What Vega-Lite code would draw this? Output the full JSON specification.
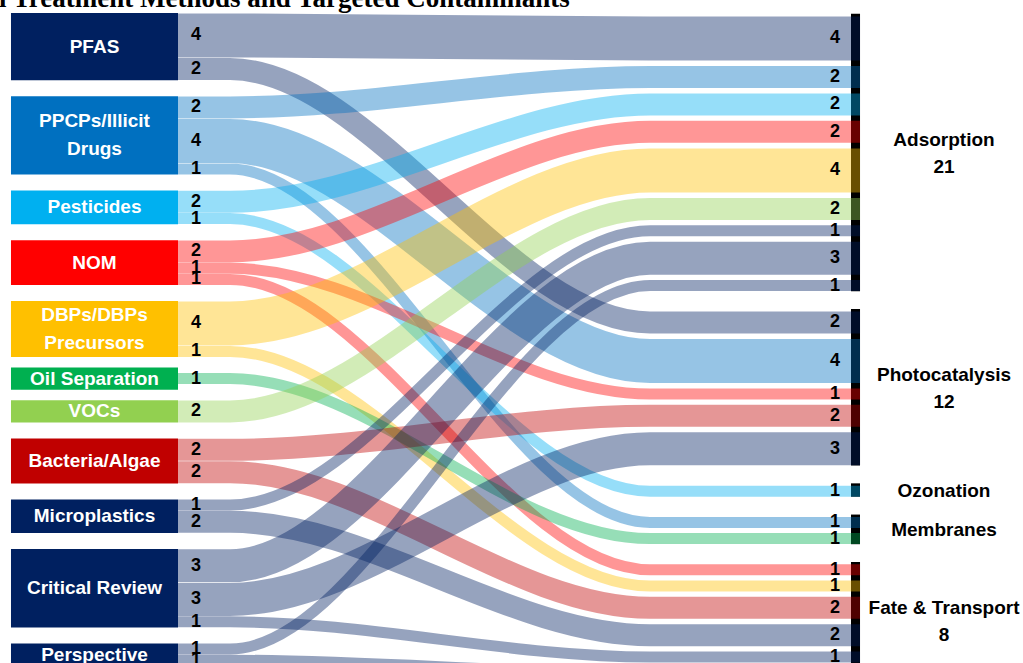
{
  "$schema": "https://vega.github.io/schema/vega-lite/v6.json",
  "width": 1023,
  "height": 663,
  "padding": 0,
  "autosize": {"type": "none"},
  "background": "white",
  "config": {"view": {"stroke": null}},
  "datasets": {
    "links": [
      {"source": "PFAS", "target": "Adsorption", "value": 4},
      {"source": "PFAS", "target": "Photocatalysis", "value": 2},
      {"source": "PPCPs/Illicit Drugs", "target": "Adsorption", "value": 2},
      {"source": "PPCPs/Illicit Drugs", "target": "Photocatalysis", "value": 4},
      {"source": "PPCPs/Illicit Drugs", "target": "Membranes", "value": 1},
      {"source": "Pesticides", "target": "Adsorption", "value": 2},
      {"source": "Pesticides", "target": "Ozonation", "value": 1},
      {"source": "NOM", "target": "Adsorption", "value": 2},
      {"source": "NOM", "target": "Photocatalysis", "value": 1},
      {"source": "NOM", "target": "Fate & Transport", "value": 1},
      {"source": "DBPs/DBPs Precursors", "target": "Adsorption", "value": 4},
      {"source": "DBPs/DBPs Precursors", "target": "Fate & Transport", "value": 1},
      {"source": "Oil Separation", "target": "Membranes", "value": 1},
      {"source": "VOCs", "target": "Adsorption", "value": 2},
      {"source": "Bacteria/Algae", "target": "Photocatalysis", "value": 2},
      {"source": "Bacteria/Algae", "target": "Fate & Transport", "value": 2},
      {"source": "Microplastics", "target": "Adsorption", "value": 1},
      {"source": "Microplastics", "target": "Fate & Transport", "value": 2},
      {"source": "Critical Review", "target": "Adsorption", "value": 3},
      {"source": "Critical Review", "target": "Photocatalysis", "value": 3},
      {"source": "Critical Review", "target": "Fate & Transport", "value": 1},
      {"source": "Perspective", "target": "Adsorption", "value": 1},
      {"source": "Perspective", "target": "Fate & Transport", "value": 1}
    ],
    "sources": [
      {"source": "PFAS", "so": 0, "label": "PFAS"},
      {"source": "PPCPs/Illicit Drugs", "so": 1, "label": "PPCPs/Illicit\nDrugs"},
      {"source": "Pesticides", "so": 2, "label": "Pesticides"},
      {"source": "NOM", "so": 3, "label": "NOM"},
      {"source": "DBPs/DBPs Precursors", "so": 4, "label": "DBPs/DBPs\nPrecursors"},
      {"source": "Oil Separation", "so": 5, "label": "Oil Separation"},
      {"source": "VOCs", "so": 6, "label": "VOCs"},
      {"source": "Bacteria/Algae", "so": 7, "label": "Bacteria/Algae"},
      {"source": "Microplastics", "so": 8, "label": "Microplastics"},
      {"source": "Critical Review", "so": 9, "label": "Critical Review"},
      {"source": "Perspective", "so": 10, "label": "Perspective"}
    ],
    "targets": [
      {"target": "Adsorption", "to": 0},
      {"target": "Photocatalysis", "to": 1},
      {"target": "Ozonation", "to": 2},
      {"target": "Membranes", "to": 3},
      {"target": "Fate & Transport", "to": 4}
    ],
    "titles": [
      {"title": "l Treatment Methods and Targeted Contaminants"}
    ]
  },
  "data": {"name": "links"},
  "transform": [
    {"lookup": "source", "from": {"data": {"name": "sources"}, "key": "source", "fields": ["so", "label"]}},
    {"lookup": "target", "from": {"data": {"name": "targets"}, "key": "target", "fields": ["to"]}},
    {"window": [{"op": "sum", "field": "value", "as": "lcum"}], "sort": [{"field": "so"}, {"field": "to"}], "frame": [null, 0]},
    {"window": [{"op": "sum", "field": "value", "as": "rcum"}, {"op": "row_number", "as": "rn"}], "sort": [{"field": "to"}, {"field": "so"}], "frame": [null, 0]},
    {"calculate": "1.1607 + datum.lcum - datum.value + datum.so * 1.4286", "as": "ltop"},
    {"calculate": "datum.ltop + datum.value / 2", "as": "yl"},
    {"calculate": "1.4286 + datum.rcum - datum.value + (datum.rn - 1 - datum.to) * 0.4464 + datum.to * 1.7857", "as": "rtop"},
    {"calculate": "datum.rtop + datum.value / 2", "as": "yr"},
    {"calculate": "datum.rtop + datum.value", "as": "rbot"},
    {"calculate": "datum.source + ' > ' + datum.target", "as": "link"}
  ],
  "layer": [
    {
      "transform": [
        {"aggregate": [{"op": "min", "field": "rtop", "as": "t0"}, {"op": "max", "field": "rbot", "as": "t1"}], "groupby": ["target"]},
        {"calculate": "datum.t0 - 0.2", "as": "b0"}
      ],
      "mark": {"type": "rect", "color": "black"},
      "encoding": {
        "x": {"datum": 0.9985, "type": "quantitative", "scale": {"domain": [-0.2641, 1.2537], "nice": false, "zero": false}, "axis": null},
        "x2": {"datum": 1.0119},
        "y": {"field": "b0", "type": "quantitative", "scale": {"domain": [0, 59.1964], "reverse": true, "nice": false, "zero": false}, "axis": null},
        "y2": {"field": "t1"}
      }
    },
    {
      "transform": [
        {"calculate": "[0, 1, 2, 3]", "as": "pt"},
        {"flatten": ["pt"]},
        {"calculate": "datum.pt == 0 ? 0 : datum.pt == 1 ? 0.0772 : datum.pt == 2 ? 0.7003 : 1.0119", "as": "px"},
        {"calculate": "datum.pt < 2 ? datum.yl : datum.yr", "as": "py"}
      ],
      "mark": {"type": "line", "interpolate": "monotone", "opacity": 0.41, "strokeCap": "butt"},
      "encoding": {
        "x": {"field": "px", "type": "quantitative", "scale": {"domain": [-0.2641, 1.2537], "nice": false, "zero": false}, "axis": null},
        "y": {"field": "py", "type": "quantitative", "scale": {"domain": [0, 59.1964], "reverse": true, "nice": false, "zero": false}, "axis": null},
        "detail": {"field": "link", "type": "nominal"},
        "order": {"field": "pt", "type": "quantitative"},
        "color": {"field": "source", "type": "nominal", "legend": null, "scale": {"domain": ["PFAS", "PPCPs/Illicit Drugs", "Pesticides", "NOM", "DBPs/DBPs Precursors", "Oil Separation", "VOCs", "Bacteria/Algae", "Microplastics", "Critical Review", "Perspective"], "range": ["#002060", "#0070C0", "#00B0F0", "#FF0000", "#FFC000", "#00B050", "#92D050", "#C00000", "#002060", "#002060", "#002060"]}},
        "size": {"field": "value", "type": "quantitative", "legend": null, "scale": {"type": "linear", "domain": [0, 1], "range": [0, 11], "zero": true}}
      }
    },
    {
      "transform": [
        {"aggregate": [{"op": "min", "field": "ltop", "as": "t0"}, {"op": "sum", "field": "value", "as": "total"}], "groupby": ["source", "label"]},
        {"calculate": "datum.t0 + datum.total / 2", "as": "c"},
        {"calculate": "datum.c - max(datum.total, 2) / 2", "as": "b0"},
        {"calculate": "datum.c + max(datum.total, 2) / 2", "as": "b1"},
        {"calculate": "datum.c - (length(split(datum.label, '\\n')) - 1) * 1.25", "as": "ty"}
      ],
      "layer": [
        {
          "mark": {"type": "rect", "opacity": 1},
          "encoding": {
            "x": {"datum": -0.2478, "type": "quantitative", "scale": {"domain": [-0.2641, 1.2537], "nice": false, "zero": false}, "axis": null},
            "x2": {"datum": 0},
            "y": {"field": "b0", "type": "quantitative", "scale": {"domain": [0, 59.1964], "reverse": true, "nice": false, "zero": false}, "axis": null},
            "y2": {"field": "b1"},
            "color": {"field": "source", "type": "nominal", "legend": null}
          }
        },
        {
          "mark": {"type": "text", "color": "white", "font": "Liberation Sans", "fontWeight": "bold", "fontSize": 19, "lineBreak": "\n", "lineHeight": 28, "baseline": "middle", "align": "center"},
          "encoding": {
            "x": {"datum": -0.1239, "type": "quantitative"},
            "y": {"field": "ty", "type": "quantitative"},
            "text": {"field": "label"}
          }
        }
      ]
    },
    {
      "mark": {"type": "text", "color": "black", "font": "Liberation Sans", "fontWeight": "bold", "fontSize": 18, "baseline": "middle", "align": "center"},
      "encoding": {
        "x": {"datum": 0.0267, "type": "quantitative"},
        "y": {"field": "yl", "type": "quantitative"},
        "text": {"field": "value"}
      }
    },
    {
      "mark": {"type": "text", "color": "black", "font": "Liberation Sans", "fontWeight": "bold", "fontSize": 18, "baseline": "middle", "align": "center"},
      "encoding": {
        "x": {"datum": 0.9748, "type": "quantitative"},
        "y": {"field": "yr", "type": "quantitative"},
        "text": {"field": "value"}
      }
    },
    {
      "transform": [
        {"aggregate": [{"op": "min", "field": "rtop", "as": "t0"}, {"op": "max", "field": "rbot", "as": "t1"}, {"op": "sum", "field": "value", "as": "total"}], "groupby": ["target"]},
        {"calculate": "(datum.t0 + datum.t1) / 2", "as": "c"},
        {"calculate": "datum.total > 2 ? datum.target + '\\n' + datum.total : datum.target", "as": "tlabel"},
        {"calculate": "datum.total > 2 ? datum.c - 1.2054 : datum.c", "as": "ty"}
      ],
      "mark": {"type": "text", "color": "black", "font": "Liberation Sans", "fontWeight": "bold", "fontSize": 19, "lineBreak": "\n", "lineHeight": 27, "baseline": "middle", "align": "center"},
      "encoding": {
        "x": {"datum": 1.1365, "type": "quantitative"},
        "y": {"field": "ty", "type": "quantitative"},
        "text": {"field": "tlabel"}
      }
    },
    {
      "data": {"name": "titles"},
      "mark": {"type": "text", "color": "black", "font": "Liberation Serif", "fontWeight": "bold", "fontSize": 27, "baseline": "alphabetic", "align": "left"},
      "encoding": {
        "x": {"datum": -0.2656, "type": "quantitative"},
        "y": {"datum": 0.625, "type": "quantitative"},
        "text": {"field": "title"}
      }
    }
  ]
}
